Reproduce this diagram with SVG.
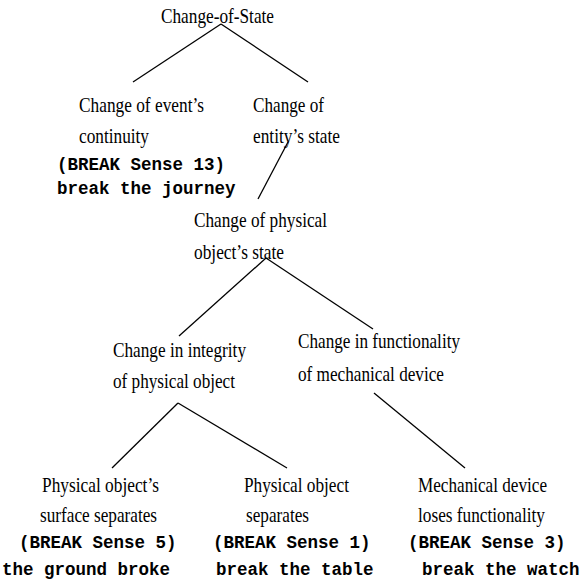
<svg xmlns="http://www.w3.org/2000/svg" width="584" height="582" viewBox="0 0 584 582">
<style>
.s{font-family:"Liberation Serif","Times New Roman",serif;font-size:21px;fill:#000}
.m{font-family:"Liberation Mono","Courier New",monospace;font-size:17.5px;font-weight:bold;fill:#000}
.c line{stroke:#000;stroke-width:1.3;fill:none}
</style>
<rect width="584" height="582" fill="#fff"/>
<g class="c" id="connectors">
<line x1="221" y1="24" x2="133" y2="82"/>
<line x1="221" y1="24" x2="308" y2="82"/>
<line x1="288" y1="142" x2="258" y2="199"/>
<line x1="266" y1="258" x2="179" y2="336"/>
<line x1="266" y1="258" x2="373" y2="329"/>
<line x1="178" y1="403" x2="112" y2="468"/>
<line x1="178" y1="403" x2="287" y2="468"/>
<line x1="374" y1="393" x2="465" y2="468"/>
</g>
<g id="root"><text class="s" x="161" y="23" textLength="113" lengthAdjust="spacingAndGlyphs">Change-of-State</text></g>
<g id="event-continuity">
<text class="s" x="79" y="112" textLength="125" lengthAdjust="spacingAndGlyphs">Change of event’s</text>
<text class="s" x="79" y="143" textLength="70" lengthAdjust="spacingAndGlyphs">continuity</text>
<text class="m" x="57" y="170">(BREAK Sense 13)</text>
<text class="m" x="57" y="194">break the journey</text>
</g>
<g id="entity-state">
<text class="s" x="253" y="112" textLength="71" lengthAdjust="spacingAndGlyphs">Change of</text>
<text class="s" x="253" y="143" textLength="87" lengthAdjust="spacingAndGlyphs">entity’s state</text>
</g>
<g id="physical-state">
<text class="s" x="194" y="227" textLength="133" lengthAdjust="spacingAndGlyphs">Change of physical</text>
<text class="s" x="194" y="259" textLength="90" lengthAdjust="spacingAndGlyphs">object’s state</text>
</g>
<g id="integrity">
<text class="s" x="113" y="357" textLength="133" lengthAdjust="spacingAndGlyphs">Change in integrity</text>
<text class="s" x="113" y="388" textLength="122" lengthAdjust="spacingAndGlyphs">of physical object</text>
</g>
<g id="functionality">
<text class="s" x="298" y="348" textLength="162" lengthAdjust="spacingAndGlyphs">Change in functionality</text>
<text class="s" x="298" y="381" textLength="146" lengthAdjust="spacingAndGlyphs">of mechanical device</text>
</g>
<g id="surface-separates">
<text class="s" x="42" y="492" textLength="117" lengthAdjust="spacingAndGlyphs">Physical object’s</text>
<text class="s" x="40" y="522" textLength="117" lengthAdjust="spacingAndGlyphs">surface separates</text>
<text class="m" x="19" y="548">(BREAK Sense 5)</text>
<text class="m" x="2" y="575">the ground broke</text>
</g>
<g id="object-separates">
<text class="s" x="244" y="492" textLength="105" lengthAdjust="spacingAndGlyphs">Physical object</text>
<text class="s" x="246" y="522" textLength="63" lengthAdjust="spacingAndGlyphs">separates</text>
<text class="m" x="213" y="548">(BREAK Sense 1)</text>
<text class="m" x="216" y="575">break the table</text>
</g>
<g id="loses-functionality">
<text class="s" x="418" y="492" textLength="129" lengthAdjust="spacingAndGlyphs">Mechanical device</text>
<text class="s" x="418" y="522" textLength="127" lengthAdjust="spacingAndGlyphs">loses functionality</text>
<text class="m" x="408" y="548">(BREAK Sense 3)</text>
<text class="m" x="422" y="575">break the watch</text>
</g>
</svg>
